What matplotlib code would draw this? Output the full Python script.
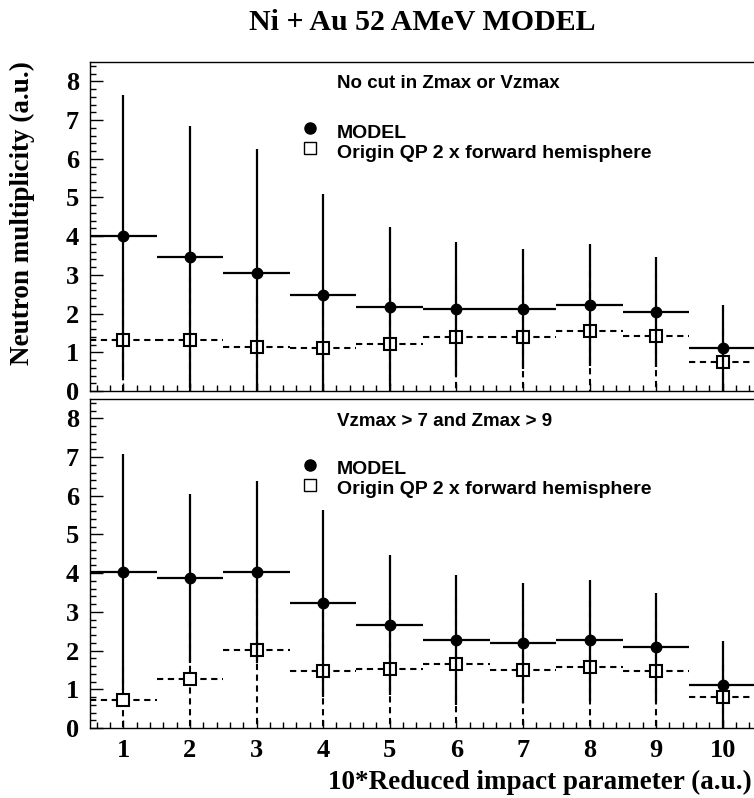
import matplotlib
matplotlib.use('Agg')
from matplotlib import pyplot as plt
from matplotlib.ticker import MultipleLocator

# bins: 10*reduced impact parameter
bins = [1, 2, 3, 4, 5, 6, 7, 8, 9, 10]

# top panel: no cut
model_top = [4.01, 3.46, 3.06, 2.47, 2.18, 2.12, 2.12, 2.23, 2.03, 1.11]
model_top_err = [3.65, 3.38, 3.19, 2.62, 2.06, 1.73, 1.56, 1.58, 1.42, 1.12]
qp_top = [1.32, 1.32, 1.14, 1.11, 1.21, 1.40, 1.40, 1.56, 1.42, 0.74]
qp_top_err = [1.6, 1.6, 1.4, 1.4, 1.5, 1.6, 1.6, 1.7, 1.6, 1.0]

# bottom panel: Vzmax > 7 and Zmax > 9
model_bot = [4.02, 3.87, 4.03, 3.22, 2.66, 2.27, 2.19, 2.27, 2.09, 1.12]
model_bot_err = [3.05, 2.18, 2.35, 2.42, 1.81, 1.68, 1.55, 1.56, 1.39, 1.14]
qp_bot = [0.73, 1.26, 2.01, 1.46, 1.53, 1.65, 1.49, 1.57, 1.46, 0.79]
qp_bot_err = [1.0, 1.5, 2.2, 1.7, 1.7, 1.8, 1.7, 1.8, 1.7, 1.0]

W, H = 754, 798
serif = 'Liberation Serif'
sans = 'Liberation Sans'


def fx(px):
    return px / W


def fy(py):
    return 1 - py / H


fig = plt.figure(figsize=(W / 100, H / 100), dpi=100)

ax_top = fig.add_axes([fx(90), fy(391), (756 - 90) / W, (391 - 62) / H])
ax_bot = fig.add_axes([fx(90), fy(728), (756 - 90) / W, (728 - 399) / H])


def draw_panel(ax, model, model_err, qp, qp_err, cut_text, y_txt, y_leg):
    # QP (open squares, dashed)
    eb = ax.errorbar(bins, qp, xerr=0.5, yerr=qp_err, fmt='none',
                     ecolor='black', elinewidth=1.5, capsize=0, zorder=2)
    for c in eb[2]:
        c.set_linestyle((0, (3, 2.2)))
    ax.plot(bins, qp, 's', ms=8, mfc='white', mec='black', mew=1.5,
            zorder=3)
    # MODEL (filled circles, solid)
    ax.errorbar(bins, model, xerr=0.5, yerr=model_err, fmt='o',
                color='black', ms=7.5, elinewidth=1.6, capsize=0, zorder=4)

    ax.set_xlim(0.5, 10.5)
    ax.set_ylim(0, 8.5)
    ax.xaxis.set_major_locator(MultipleLocator(1))
    ax.xaxis.set_minor_locator(MultipleLocator(0.2))
    ax.yaxis.set_major_locator(MultipleLocator(1))
    ax.yaxis.set_minor_locator(MultipleLocator(0.2))
    ax.tick_params(axis='both', which='both', direction='in',
                   top=False, right=False, width=1)
    ax.tick_params(axis='y', which='major', length=9, pad=8)
    ax.tick_params(axis='y', which='minor', length=4.5)
    ax.tick_params(axis='x', which='major', length=6, pad=8)
    ax.tick_params(axis='x', which='minor', length=4)
    for lab in ax.get_xticklabels() + ax.get_yticklabels():
        lab.set_fontfamily(serif)
        lab.set_fontweight('bold')
        lab.set_fontsize(19)
    for s in ax.spines.values():
        s.set_linewidth(1.0)

    fig.text(fx(337), fy(y_txt), cut_text, fontfamily=sans,
             fontweight='bold', fontsize=13.5, va='center', ha='left')
    fig.lines.append(plt.Line2D([fx(310)], [fy(y_leg)], marker='o',
                                ms=8, color='black', linestyle='none',
                                transform=fig.transFigure))
    fig.lines.append(plt.Line2D([fx(310)], [fy(y_leg + 20)], marker='s',
                                ms=8.5, mfc='white', mec='black', mew=1.0,
                                linestyle='none',
                                transform=fig.transFigure))
    fig.text(fx(337), fy(y_leg + 5), 'MODEL', fontfamily=sans,
             fontweight='bold', fontsize=14, va='center', ha='left')
    fig.text(fx(337), fy(y_leg + 25), 'Origin QP 2 x forward hemisphere',
             fontfamily=sans, fontweight='bold', fontsize=14,
             va='center', ha='left')


draw_panel(ax_top, model_top, model_top_err, qp_top, qp_top_err,
           'No cut in Zmax or Vzmax', 84, 128)
draw_panel(ax_bot, model_bot, model_bot_err, qp_bot, qp_bot_err,
           'Vzmax > 7 and Zmax > 9', 421, 465)
ax_top.tick_params(axis='x', labelbottom=False)

fig.text(fx(422), fy(22), 'Ni + Au 52 AMeV MODEL', fontfamily=serif,
         fontweight='bold', fontsize=21.5, ha='center', va='center')
fig.text(fx(22), fy(61), 'Neutron multiplicity (a.u.)', fontfamily=serif,
         fontweight='bold', fontsize=19.5, rotation=90, ha='center', va='top')
fig.text(fx(752), fy(782), '10*Reduced impact parameter (a.u.)',
         fontfamily=serif, fontweight='bold', fontsize=19.5,
         ha='right', va='center')

fig.savefig('out.png', dpi=100)
